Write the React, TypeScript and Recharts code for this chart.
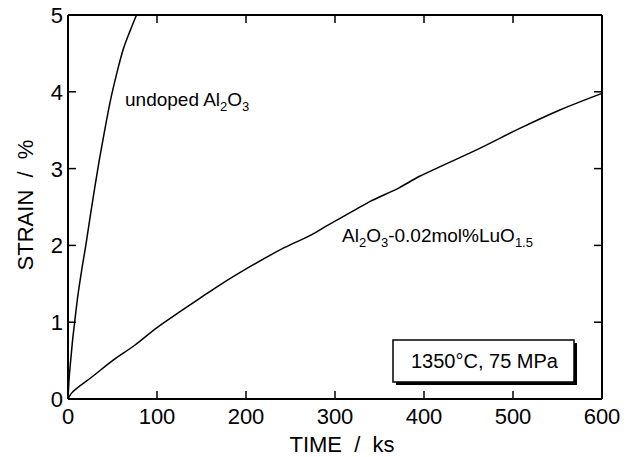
import React from "react";
import { LineChart, Line, XAxis, YAxis, ReferenceLine } from "recharts";

// undoped Al2O3 creep curve (time ks, strain %)
const undopedTime = [0, 1, 3, 5, 7.5, 10, 15, 20, 25, 30, 35, 40, 47, 55, 62, 70, 77];
const undopedStrain = [0, 0.22, 0.5, 0.75, 1.0, 1.25, 1.65, 2.0, 2.38, 2.75, 3.1, 3.42, 3.85, 4.25, 4.55, 4.8, 5.0];

// Al2O3-0.02mol%LuO1.5 creep curve
const dopedTime = [0, 3, 10, 25, 50, 75, 100, 125, 148, 170, 204, 243, 277, 290, 316, 339, 372, 395, 417, 462, 507, 552, 600];
const dopedStrain = [0, 0.06, 0.14, 0.27, 0.5, 0.7, 0.93, 1.13, 1.31, 1.48, 1.72, 1.97, 2.16, 2.25, 2.42, 2.57, 2.75, 2.9, 3.02, 3.26, 3.52, 3.76, 3.98];

const xTicks = [0, 100, 200, 300, 400, 500, 600];
const yTicks = [0, 1, 2, 3, 4, 5];

const undoped = undopedTime.map((t, i) => ({ t, s: undopedStrain[i] }));
const doped = dopedTime.map((t, i) => ({ t, s: dopedStrain[i] }));

const W = 633;
const H = 457;
const MARGIN = { top: 15, right: 31, bottom: 0, left: 0 };
const PLOT_TOP = MARGIN.top;
const PLOT_RIGHT = W - MARGIN.right;

const FONT = "'Liberation Sans', Arial, Helvetica, sans-serif";
const TICK = 8;
const GAP = 8; // recharts default tickSize + tickMargin
const INK = "#000";

function BottomTick(props: any) {
  const { x, y, payload } = props;
  const axisY = y - GAP;
  const inner = payload.value > 0 && payload.value < 600;
  return (
    <g>
      {inner && <line x1={x} y1={axisY} x2={x} y2={axisY - TICK} stroke={INK} strokeWidth={1.5} />}
      {inner && <line x1={x} y1={PLOT_TOP} x2={x} y2={PLOT_TOP + TICK} stroke={INK} strokeWidth={1.5} />}
      <text x={x} y={axisY + 25} textAnchor="middle" fontSize={22} fontFamily={FONT} fill={INK}>
        {payload.value}
      </text>
    </g>
  );
}

function LeftTick(props: any) {
  const { x, y, payload } = props;
  const axisX = x + GAP;
  const inner = payload.value > 0 && payload.value < 5;
  return (
    <g>
      {inner && <line x1={axisX} y1={y} x2={axisX + TICK} y2={y} stroke={INK} strokeWidth={1.5} />}
      {inner && <line x1={PLOT_RIGHT} y1={y} x2={PLOT_RIGHT - TICK} y2={y} stroke={INK} strokeWidth={1.5} />}
      <text x={axisX - 5} y={y + 8} textAnchor="end" fontSize={22} fontFamily={FONT} fill={INK}>
        {payload.value}
      </text>
    </g>
  );
}

export default function App() {
  return (
    <div style={{ position: "absolute", left: 0, top: 0, width: W, height: H, background: "#fff" }}>
      <LineChart width={W} height={H} margin={MARGIN}>
        <XAxis
          type="number"
          dataKey="t"
          domain={[0, 600]}
          ticks={xTicks}
          height={58}
          stroke={INK}
          axisLine={{ stroke: INK, strokeWidth: 2 }}
          tickLine={false}
          tick={<BottomTick />}
        />
        <YAxis
          type="number"
          domain={[0, 5]}
          ticks={yTicks}
          width={68}
          stroke={INK}
          axisLine={{ stroke: INK, strokeWidth: 2 }}
          tickLine={false}
          tick={<LeftTick />}
        />
        <ReferenceLine x={600} stroke={INK} strokeWidth={2} />
        <ReferenceLine y={5} stroke={INK} strokeWidth={2} />
        <Line
          data={undoped}
          dataKey="s"
          type="monotone"
          stroke={INK}
          strokeWidth={1.5}
          dot={false}
          isAnimationActive={false}
        />
        <Line
          data={doped}
          dataKey="s"
          type="monotone"
          stroke={INK}
          strokeWidth={1.5}
          dot={false}
          isAnimationActive={false}
        />
      </LineChart>
      <svg
        width={W}
        height={H}
        style={{ position: "absolute", left: 0, top: 0, pointerEvents: "none" }}
        fontFamily={FONT}
        fill={INK}
      >
        <text x={25} y={205} transform="rotate(-90 25 205)" textAnchor="middle" dominantBaseline="central" fontSize={22} style={{ whiteSpace: "pre" }}>
          {"STRAIN  /  %"}
        </text>
        <text x={342} y={452} textAnchor="middle" fontSize={22} style={{ whiteSpace: "pre" }}>
          {"TIME  /  ks"}
        </text>
        <text x={125} y={106} fontSize={19}>
          <tspan>undoped Al</tspan>
          <tspan dy={5} fontSize={13}>2</tspan>
          <tspan dy={-5}>O</tspan>
          <tspan dy={5} fontSize={13}>3</tspan>
        </text>
        <text x={342} y={242} fontSize={19}>
          <tspan>Al</tspan>
          <tspan dy={5} fontSize={13}>2</tspan>
          <tspan dy={-5}>O</tspan>
          <tspan dy={5} fontSize={13}>3</tspan>
          <tspan dy={-5}>-0.02mol%LuO</tspan>
          <tspan dy={5} fontSize={13}>1.5</tspan>
        </text>
        <rect x={396} y={343} width={181} height={42} fill={INK} />
        <rect x={393} y={340} width={181} height={42} fill="#fff" stroke={INK} strokeWidth={1.5} />
        <text x={411} y={368} fontSize={20}>
          1350°C, 75 MPa
        </text>
      </svg>
    </div>
  );
}
